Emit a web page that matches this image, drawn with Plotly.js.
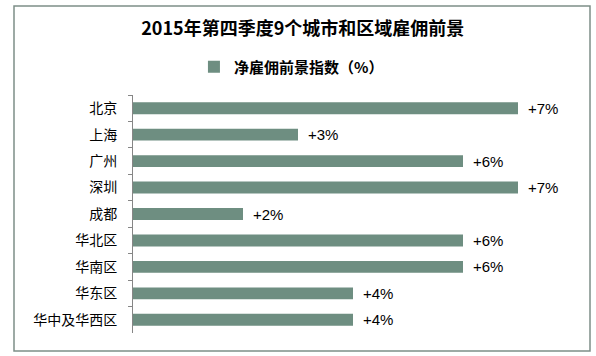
<!DOCTYPE html>
<html>
<head>
<meta charset="utf-8">
<script src="https://cdn.plot.ly/plotly-3.0.1.min.js"></script>
<style>html,body{margin:0;padding:0;background:#fff;}#chart{width:596px;height:356px;}</style>
</head>
<body>
<div id="chart"></div>
<script>
const categories = ["北京", "上海", "广州", "深圳", "成都", "华北区", "华南区", "华东区", "华中及华西区"];
const values = [7, 3, 6, 7, 2, 6, 6, 4, 4];
const valueLabels = ["+7%", "+3%", "+6%", "+7%", "+2%", "+6%", "+6%", "+4%", "+4%"];
const seriesName = "净雇佣前景指数（%）";
const chartTitle = "2015年第四季度9个城市和区域雇佣前景";

const barColor = "#6e8e81";

const trace = {
  type: "bar",
  orientation: "h",
  y: categories,
  x: values,
  name: seriesName,
  marker: { color: barColor },
  showlegend: true,
  hoverinfo: "x+y"
};

const annotations = categories.map((c, i) => ({
  x: values[i],
  y: c,
  xref: "x",
  yref: "y",
  text: valueLabels[i],
  showarrow: false,
  xanchor: "left",
  yanchor: "middle",
  xshift: 8,
  font: { family: "Liberation Sans, Arial, sans-serif", size: 15, color: "#000" }
}));

const layout = {
  width: 596,
  height: 356,
  margin: { l: 133, r: 23, t: 95, b: 23 },
  paper_bgcolor: "#fff",
  plot_bgcolor: "#fff",
  bargap: 0.55,
  title: {
    text: "<b>" + chartTitle + "</b>",
    xref: "container",
    yref: "container",
    x: 0.508,
    xanchor: "center",
    y: 0.918,
    yanchor: "middle",
    font: { family: "Noto Sans CJK SC, sans-serif", size: 18, color: "#000" }
  },
  legend: {
    orientation: "h",
    xref: "container",
    yref: "container",
    x: 0.489,
    xanchor: "center",
    y: 0.812,
    yanchor: "middle",
    font: { family: "Noto Sans CJK SC, sans-serif", size: 15, color: "#000", weight: "bold" },
    itemwidth: 30,
    bgcolor: "rgba(0,0,0,0)"
  },
  xaxis: {
    range: [0, 8],
    showgrid: false,
    zeroline: false,
    showline: false,
    showticklabels: false,
    ticks: "",
    fixedrange: true
  },
  yaxis: {
    type: "category",
    autorange: "reversed",
    showgrid: false,
    zeroline: false,
    showline: true,
    linecolor: "#868686",
    linewidth: 1,
    ticks: "outside",
    tickson: "boundaries",
    ticklen: 4,
    tickcolor: "#868686",
    tickwidth: 1,
    ticklabelstandoff: 12,
    tickfont: { family: "Noto Sans CJK SC, sans-serif", size: 14, color: "#000" },
    fixedrange: true
  },
  annotations: annotations,
  shapes: [{
    type: "rect",
    xref: "paper",
    yref: "paper",
    x0: (14 - 133) / 440,
    x1: (590 - 133) / 440,
    y0: (333 - 351) / 238,
    y1: (333 - 6) / 238,
    line: { color: "#7d8f88", width: 1.5 },
    fillcolor: "rgba(0,0,0,0)",
    layer: "below"
  }]
};

Plotly.newPlot("chart", [trace], layout, { displayModeBar: false, staticPlot: true });
</script>
</body>
</html>
